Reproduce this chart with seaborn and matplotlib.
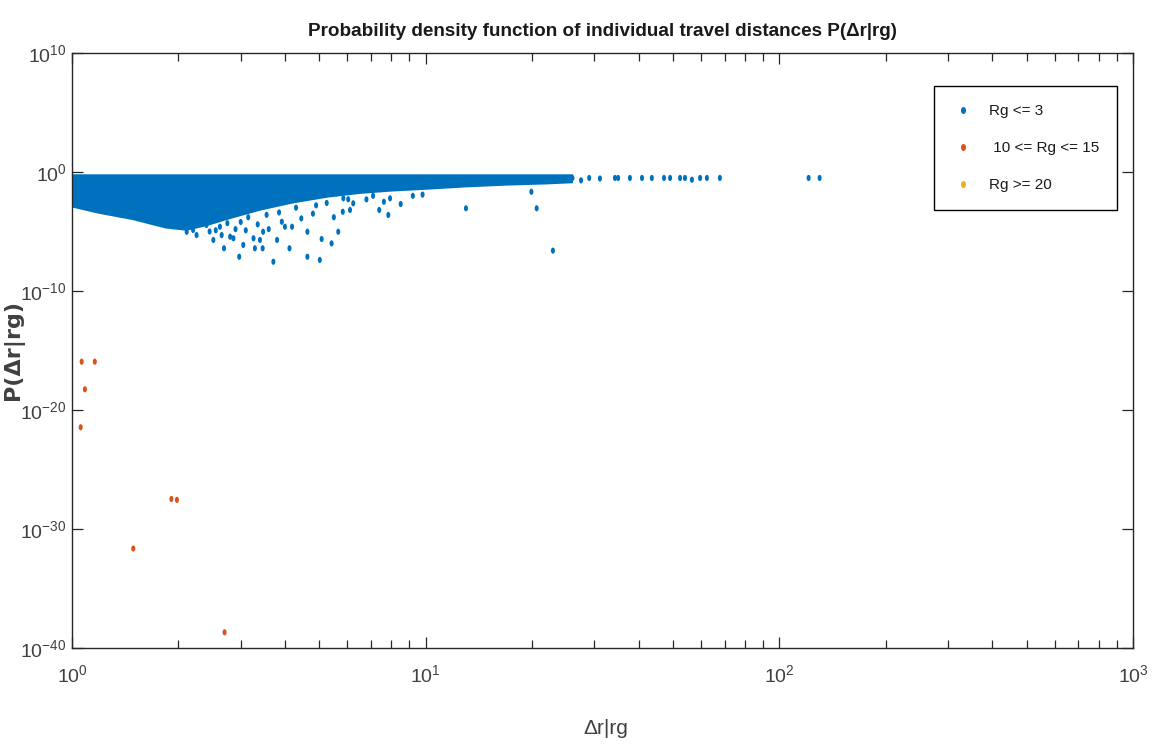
import matplotlib
matplotlib.use('Agg')
import matplotlib.pyplot as plt
from matplotlib.lines import Line2D
from matplotlib.markers import MarkerStyle
from matplotlib.transforms import Affine2D
import numpy as np
import pandas as pd
import seaborn as sns

# dense core of the Rg <= 3 cloud: lower edge of log10 P along dr
core_dr = [1.0, 1.18, 1.48, 1.83, 2.1, 2.4, 2.8, 3.4, 4.2, 5.3, 6.5, 8.0, 10.0, 13.0, 17.0, 22.0, 26.0]
core_logp_lo = [-2.95, -3.45, -4.0, -4.7, -4.9, -4.5, -3.9, -3.2, -2.6, -2.1, -1.8, -1.6, -1.45, -1.25, -1.1, -1.0, -0.9]
core_logp_hi = -0.15

# single Rg <= 3 points outside the core
blue_dr = [2.11, 2.20, 2.35, 2.38, 2.40, 2.51, 2.62, 2.69, 2.80, 2.86, 2.97, 3.05, 3.26, 3.29,
           3.40, 3.46, 3.47, 3.71, 3.80, 3.92, 4.12, 4.19, 4.63, 4.63, 5.02, 5.08, 5.42, 5.66,
           5.83, 6.11, 6.24, 5.60, 5.85, 6.04, 7.39, 7.62, 7.84, 7.93, 8.50, 13.0, 20.6, 19.9,
           22.9, 24.5, 26.0, 27.5, 29.0, 31.1, 34.3, 35.0, 37.8, 40.9, 43.6, 47.2, 49.1, 52.4,
           54.1, 56.6, 59.7, 62.4, 67.9, 121.0, 130.0,
           2.25, 2.45, 2.55, 2.65, 2.75, 2.9, 3.0, 3.1, 3.15, 3.35, 3.55, 3.6, 3.85, 4.0,
           4.3, 4.45, 4.8, 4.9, 5.25, 5.5, 6.8, 7.1, 9.2, 9.8]
blue_logp = [-5.02, -4.87, -2.63, -2.77, -4.45, -5.71, -4.60, -6.41, -5.44, -5.57, -7.12, -6.13, -5.57, -6.41,
             -5.71, -6.41, -5.02, -7.54, -5.71, -4.18, -6.41, -4.60, -5.02, -7.12, -7.39, -5.63, -6.00, -5.02,
             -3.34, -3.19, -2.63, -1.79, -2.21, -2.29, -3.19, -2.50, -3.61, -2.21, -2.69, -3.05, -3.05, -1.66,
             -6.61, -0.6, -0.5, -0.7, -0.5, -0.55, -0.5, -0.5, -0.5, -0.5, -0.5, -0.5, -0.5, -0.5,
             -0.5, -0.65, -0.5, -0.5, -0.5, -0.5, -0.5,
             -5.3, -5.0, -4.9, -5.3, -4.3, -4.8, -4.2, -4.9, -3.8, -4.4, -3.6, -4.8, -3.4, -4.6,
             -3.0, -3.9, -3.5, -2.8, -2.6, -3.8, -2.3, -2.0, -2.0, -1.9]

# 10 <= Rg <= 15
orange_dr = [1.065, 1.16, 1.088, 1.058, 1.91, 1.98, 1.49, 2.70]
orange_logp = [-15.94, -15.94, -18.26, -21.45, -27.48, -27.55, -31.64, -38.68]

# Rg >= 20 (no visible points)
yellow_dr = []
yellow_logp = []

labels = ['Rg <= 3', ' 10 <= Rg <= 15', 'Rg >= 20']
colors = ['#0072BD', '#D95319', '#EDB120']

df = pd.concat([
    pd.DataFrame({'dr': blue_dr, 'p': 10.0 ** np.array(blue_logp), 'group': labels[0]}),
    pd.DataFrame({'dr': orange_dr, 'p': 10.0 ** np.array(orange_logp), 'group': labels[1]}),
    pd.DataFrame({'dr': yellow_dr, 'p': 10.0 ** np.array(yellow_logp, dtype=float), 'group': labels[2]}),
], ignore_index=True)

sns.set_style('white')
plt.rcParams['font.family'] = ['Liberation Sans', 'DejaVu Sans']
plt.rcParams['mathtext.fontset'] = 'custom'
plt.rcParams['mathtext.rm'] = 'Liberation Sans'

fig = plt.figure(figsize=(11.55, 7.55), dpi=100)
ax = fig.add_axes([72 / 1155, 107 / 755, 1061 / 1155, 595 / 755])

dot = MarkerStyle('o', transform=Affine2D().scale(0.65, 1.0))

ax.fill_between(core_dr, 10.0 ** np.array(core_logp_lo), 10.0 ** core_logp_hi,
                color=colors[0], lw=0)
sns.scatterplot(data=df, x='dr', y='p', hue='group', hue_order=labels,
                palette=dict(zip(labels, colors)), marker=dot, s=20,
                linewidth=0, legend=False, ax=ax)

ax.set_xscale('log')
ax.set_yscale('log')
ax.set_xlim(1, 1000)
ax.set_ylim(1e-40, 1e10)
ax.set_yticks([10.0 ** k for k in range(-40, 11, 10)])
ax.yaxis.set_minor_locator(matplotlib.ticker.NullLocator())

txt = '#404040'
ax.tick_params(which='both', direction='in', bottom=True, left=True, top=True, right=True,
               colors='#262626', labelcolor=txt, labelsize=14, width=0.9)
ax.tick_params(which='major', length=8)
ax.tick_params(which='minor', length=6)
ax.tick_params(axis='x', pad=12)
ax.tick_params(axis='y', pad=4)
for s in ax.spines.values():
    s.set_color('#262626')
    s.set_linewidth(1.0)

ax.set_title('Probability density function of individual travel distances P(Δr|rg)',
             fontsize=13.6, fontweight='bold', color='#1a1a1a', pad=12)
ax.set_xlabel('Δr|rg', fontsize=15, color=txt)
ax.set_ylabel('P(Δr|rg)', fontsize=16, fontweight='bold', color=txt,
              family=['DejaVu Sans'])
ax.xaxis.set_label_coords(0.503, -0.12)
ax.yaxis.set_label_coords(-0.045, 0.5)

handles = [Line2D([], [], marker=dot, linestyle='none', color=c, markersize=4) for c in colors]
leg = ax.legend(handles, labels, loc='upper right', bbox_to_anchor=(0.985, 0.945),
                fontsize=11, labelspacing=1.5, handlelength=1.5, handletextpad=0.9,
                borderpad=1.2, borderaxespad=0, frameon=True, fancybox=False,
                framealpha=1, edgecolor='black')
leg.get_frame().set_linewidth(1.0)
for t in leg.get_texts():
    t.set_color('#1a1a1a')

fig.savefig('out.png', dpi=100)
